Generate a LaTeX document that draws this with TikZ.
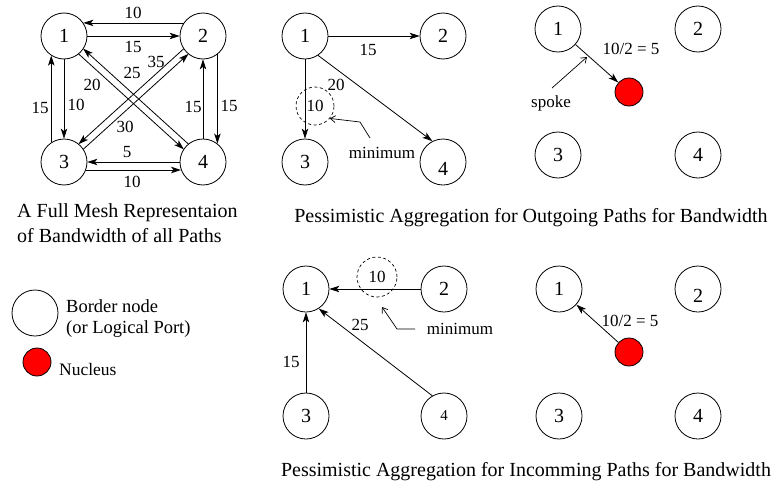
\documentclass[tikz,border=0pt]{standalone}
\usepackage{fontspec}
\setmainfont{Liberation Serif}
\usetikzlibrary{arrows.meta,calc}
\tikzset{
  bnode/.style={circle,draw,minimum size=46pt,inner sep=0pt,line width=0.8pt,font=\fontsize{20}{24}\selectfont},
  nuc/.style={circle,draw,fill=red,minimum size=28pt,inner sep=0pt,line width=0.8pt},
  conn/.style={line width=0.8pt,-{Stealth[length=10pt,width=6.5pt,inset=2.5pt]}},
  elab/.style={font=\fontsize{17}{20}\selectfont,inner sep=0pt},
  captxt/.style={font=\fontsize{20}{25}\selectfont,inner sep=0pt},
  ptr/.style={line width=0.7pt,-{Straight Barb[length=5pt,width=7pt]}},
  mincirc/.style={circle,draw,dashed,dash pattern=on 3pt off 2.5pt,inner sep=0pt,line width=0.7pt,font=\fontsize{17}{20}\selectfont},
  diag/.style={conn,shorten <=22.7pt,shorten >=22.7pt},
}
\begin{document}
\begin{tikzpicture}[x=1pt,y=-1pt]
\useasboundingbox (0,0) rectangle (778,487);

% ---------- Panel 1: full mesh ----------
\node[bnode] (a1) at (64,36) {1};
\node[bnode] (a2) at (203,36) {2};
\node[bnode] (a3) at (64,162) {3};
\node[bnode] (a4) at (203,162) {4};

\draw[conn] (a2.146) -- (a1.34);
\draw[conn] (a1.east) -- (a2.west);
\draw[conn] (a3.123) -- (a1.237);
\draw[conn] (a1.south) -- (a3.north);
\draw[conn] (a4.north) -- (a2.south);
\draw[conn] (a2.-52) -- (a4.52);
\draw[conn] (a4.west) -- (a3.east);
\draw[conn] (a3.-20) -- (a4.200);
\draw[diag] ($(a1.center)!3.5pt!-90:(a4.center)$) -- ($(a4.center)!3.5pt!90:(a1.center)$);
\draw[diag] ($(a4.center)!3.5pt!-90:(a1.center)$) -- ($(a1.center)!3.5pt!90:(a4.center)$);
\draw[diag] ($(a2.center)!3.5pt!-90:(a3.center)$) -- ($(a3.center)!3.5pt!90:(a2.center)$);
\draw[diag] ($(a3.center)!3.5pt!-90:(a2.center)$) -- ($(a2.center)!3.5pt!90:(a3.center)$);

\node[elab] at (133,13) {10};
\node[elab] at (133,47) {15};
\node[elab] at (92,85) {20};
\node[elab] at (132,73) {25};
\node[elab] at (156,62) {35};
\node[elab] at (125,127) {30};
\node[elab] at (40,108) {15};
\node[elab] at (76,105) {10};
\node[elab] at (193,107) {15};
\node[elab] at (229,106) {15};
\node[elab] at (127,152) {5};
\node[elab] at (132,182) {10};

\node[captxt,anchor=west,align=left] at (17,223.5) {A Full Mesh Representaion\\of Bandwidth of all Paths};

% ---------- Legend ----------
\node[bnode] (lb) at (35,313) {};
\node[nuc] (ln) at (37,362) {};
\node[font=\fontsize{18.5}{21}\selectfont,inner sep=0pt,anchor=west,align=left] (lbt) at (66,318.5) {Border node\\(or Logical Port)};
\node[font=\fontsize{17.5}{21}\selectfont,inner sep=0pt,anchor=west] (lnt) at (59,370) {Nucleus};

% ---------- Panel 2: outgoing ----------
\node[bnode] (b1) at (305,36) {1};
\node[bnode] (b2) at (443,36) {2};
\node[bnode] (b3) at (305,162) {3};
\node[bnode,label={[yshift=-7pt,inner sep=0pt,font=\fontsize{20}{24}\selectfont]center:4}] (b4) at (443,162) {};

\draw[conn] (b1.east) -- (b2.west);
\draw[conn] (b1.south) -- (b3.north);
\draw[conn] (b1.-56) -- (b4.117);

\node[elab] at (368,50) {15};
\node[elab] at (336,85) {20};
\node[mincirc,minimum size=38pt] (mc1) at (315,106) {10};

\node[elab] (mt1) at (382,153) {minimum};
\coordinate (m1a) at (370,138);
\coordinate (m1b) at (360,122);
\draw[ptr] (m1a) -- (m1b) -- (mc1.-40);

\node[captxt] at (531,218) {Pessimistic Aggregation for Outgoing Paths for Bandwidth};

% ---------- Panel 3: outgoing spoke ----------
\node[bnode] (c1) at (558,29) {1};
\node[bnode] (c2) at (698,29) {2};
\node[bnode] (c3) at (558,155) {3};
\node[bnode] (c4) at (698,155) {4};
\node[nuc] (cn) at (629,92) {};
\draw[conn] (c1) -- (cn);
\node[elab] at (631,49) {10/2 = 5};
\node[elab] (sp) at (551,103) {spoke};
\coordinate (spa) at (552,88);
\coordinate (spb) at (587,57);
\draw[ptr] (spa) -- (spb);

% ---------- Panel 4: incoming ----------
\node[bnode] (d1) at (306,289) {1};
\node[bnode] (d2) at (444,289) {2};
\node[bnode] (d3) at (306,416) {3};
\node[bnode,font=\fontsize{15}{18}\selectfont] (d4) at (444,416) {4};

\draw[conn] (d2.west) -- (d1.east);
\draw[conn] (d3.north) -- (d1.south);
\draw[conn] (d4.120) -- (d1.-57);

\node[elab] at (291,362) {15};
\node[elab] at (360,325) {25};
\node[mincirc,minimum size=40pt] (mc2) at (377,277) {10};

\node[elab] (mt2) at (460,329) {minimum};
\coordinate (m2a) at (415,329);
\coordinate (m2b) at (397,329);
\coordinate (m2c) at (382,307);
\draw[ptr] (m2a) -- (m2b) -- (m2c);

\node[captxt] at (526,472) {Pessimistic Aggregation for Incomming Paths for Bandwidth};

% ---------- Panel 5: incoming spoke ----------
\node[bnode] (e1) at (559,289) {1};
\node[bnode,label={[yshift=-7pt,inner sep=0pt,font=\fontsize{20}{24}\selectfont]center:2}] (e2) at (698,289) {};
\node[bnode] (e3) at (559,416) {3};
\node[bnode] (e4) at (698,416) {4};
\node[nuc] (en) at (629,352) {};
\draw[conn] (en) -- (e1);
\node[elab] at (630,321) {10/2 = 5};
\end{tikzpicture}
\end{document}
